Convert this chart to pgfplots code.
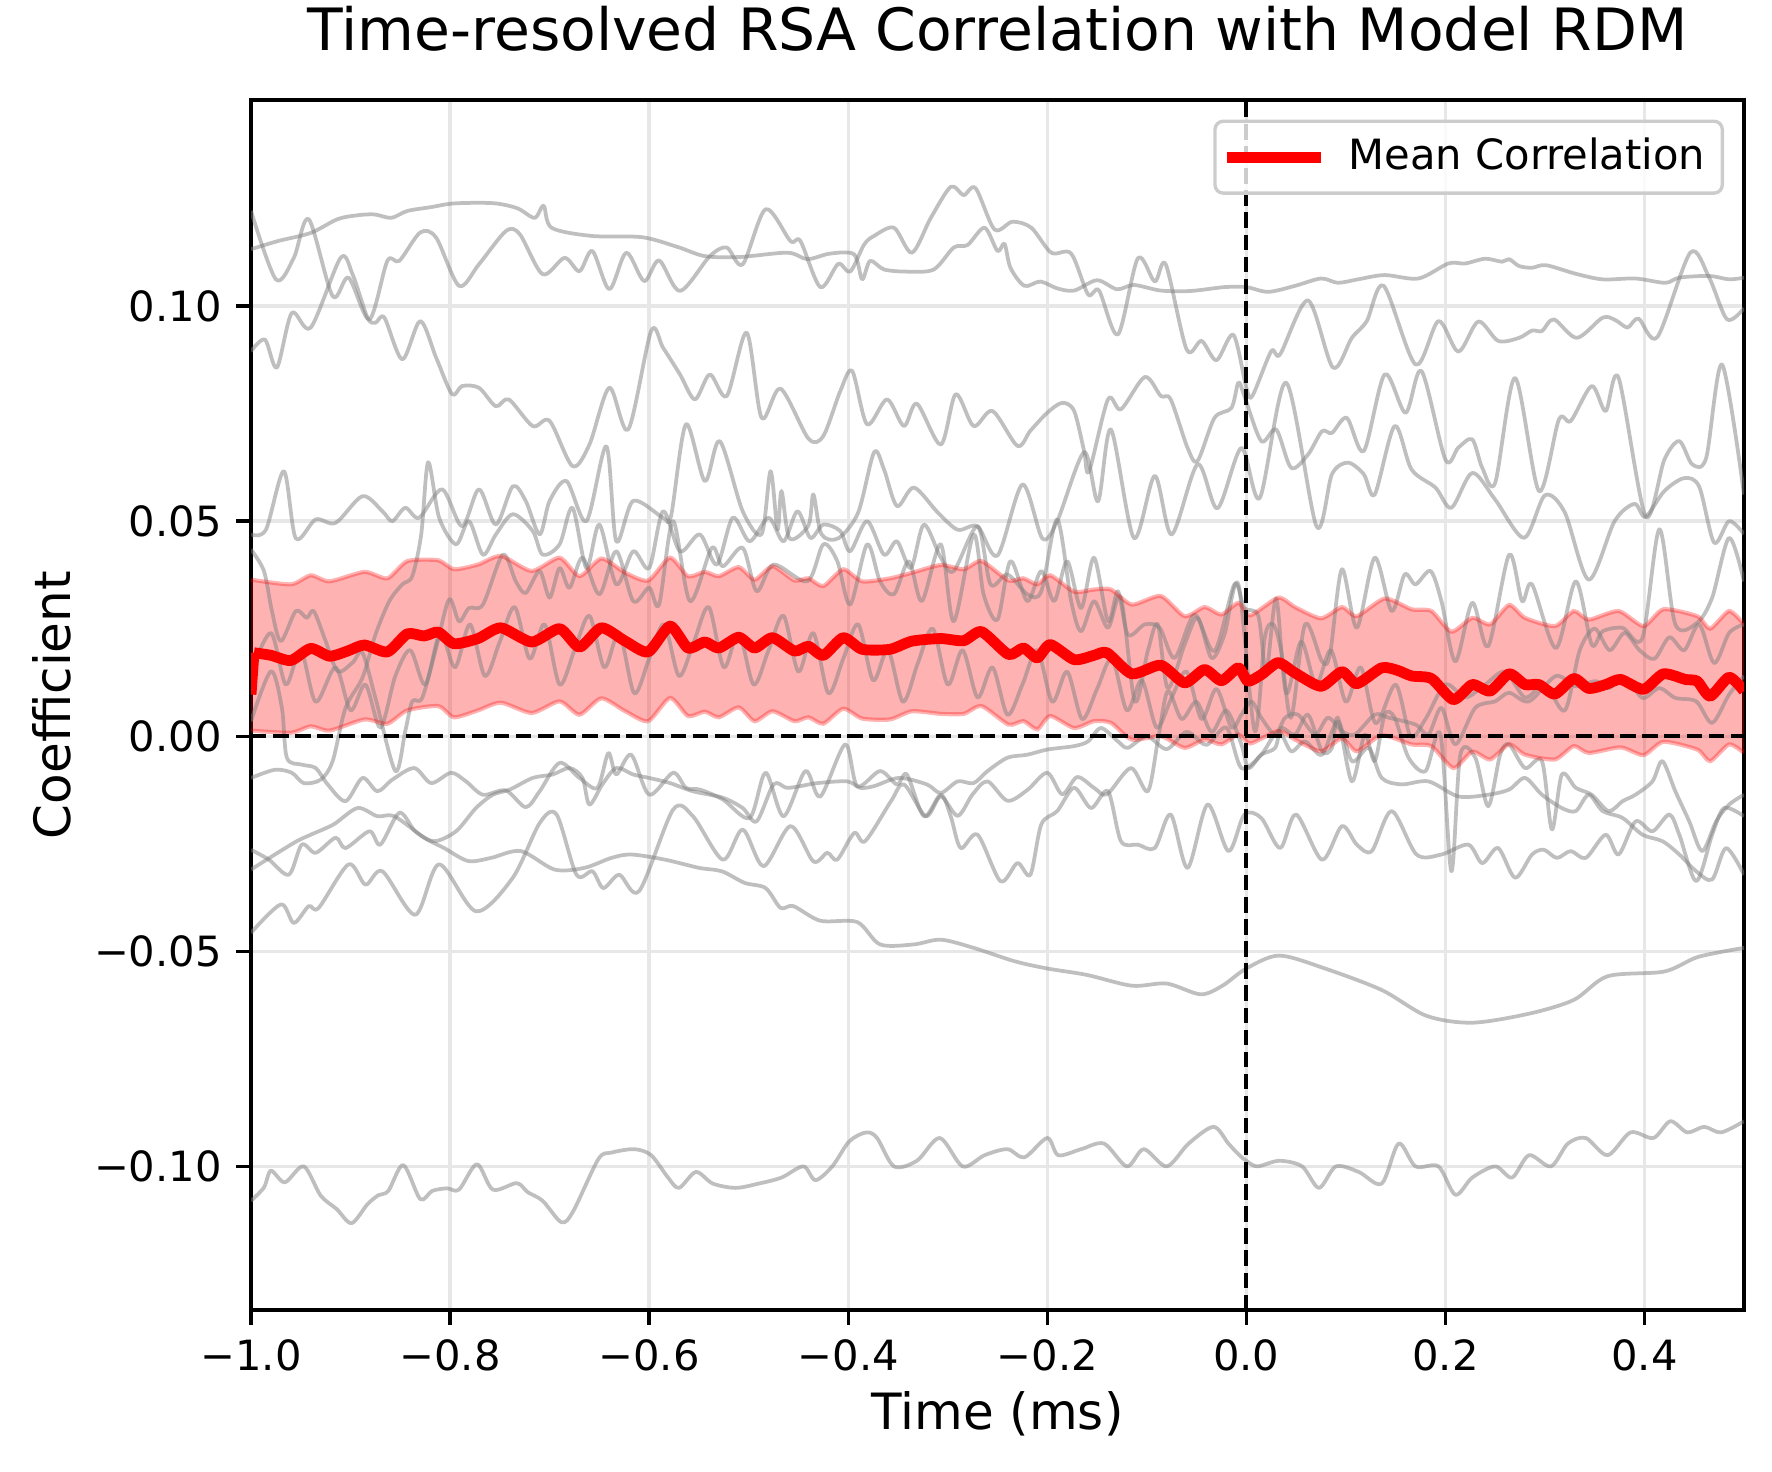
\documentclass[border=0pt]{standalone}
\usepackage{fontspec}
\setmainfont{DejaVu Sans}
\usepackage{pgfplots}
\pgfplotsset{compat=1.18}
\usepgfplotslibrary{fillbetween}
\definecolor{gridgray}{RGB}{231,231,231}
\definecolor{legendgray}{RGB}{204,204,204}
\pgfplotsset{gl/.style={color=gray, opacity=0.5, line width=0.9bp, smooth, tension=0.5, line join=round, forget plot}}
\begin{document}
\begin{tikzpicture}
\begin{axis}[
 name=ax,
 scale only axis, width=358.3bp, height=290.4bp,
 xmin=-1, xmax=0.5, ymin=-0.1334, ymax=0.1479,
 xtick={-1,-0.8,-0.6,-0.4,-0.2,0,0.2,0.4},
 xticklabels={−1.0,−0.8,−0.6,−0.4,−0.2,0.0,0.2,0.4},
 ytick={-0.1,-0.05,0,0.05,0.1},
 yticklabels={−0.10,−0.05,0.00,0.05,0.10},
 tick align=outside, major tick length=3.5bp,
 xtick pos=bottom, ytick pos=left,
 tick style={line width=0.8bp, black},
 axis line style={line width=0.8bp},
 grid=major, major grid style={line width=0.8bp, gridgray},
 tick label style={font=\fontsize{10bp}{12bp}\selectfont},
 title={Time-resolved RSA Correlation with Model RDM},
 title style={at={(0.5,1)}, anchor=base, yshift=6bp, font=\fontsize{14bp}{17bp}\selectfont},
 xlabel={Time (ms)}, ylabel={Coefficient},
 xlabel style={at={(axis description cs:0.5,-0.0983)}, anchor=base, font=\fontsize{12bp}{14bp}\selectfont},
 ylabel style={at={(axis description cs:-0.1212,0.5)}, anchor=base, font=\fontsize{12bp}{14bp}\selectfont},
 legend style={at={(1,1)}, anchor=north east, xshift=-4.8bp, yshift=-4.7bp, draw=legendgray, line width=0.8bp, rounded corners=2bp, fill=white, fill opacity=0.8, text opacity=1, draw opacity=1, font=\fontsize{10bp}{12bp}\selectfont, inner xsep=2.8bp, inner ysep=1.28bp, nodes={inner xsep=3.5bp, inner ysep=2.8bp}},
 legend image code/.code={\draw[#1, line width=2.6bp, line cap=rect] (0bp,0bp) -- (20bp,0bp);},
]
% S1
\addplot[gl] coordinates {(-1.0,0.1132) (-0.973,0.1151) (-0.94,0.117) (-0.913,0.1202) (-0.893,0.1211) (-0.876,0.1213) (-0.859,0.1205) (-0.843,0.1221) (-0.819,0.123) (-0.799,0.1238) (-0.772,0.124) (-0.752,0.1238) (-0.732,0.1227) (-0.715,0.1205) (-0.706,0.1233) (-0.698,0.1182) (-0.658,0.1163) (-0.607,0.116) (-0.571,0.1137) (-0.544,0.1116) (-0.509,0.1114) (-0.461,0.1124) (-0.441,0.1109) (-0.418,0.1122) (-0.394,0.112) (-0.386,0.1062) (-0.378,0.1105) (-0.364,0.1085) (-0.341,0.108) (-0.314,0.1085) (-0.294,0.1136) (-0.28,0.1142) (-0.263,0.1182) (-0.25,0.1128) (-0.243,0.1145) (-0.237,0.1089) (-0.223,0.1047) (-0.207,0.1057) (-0.19,0.1041) (-0.173,0.1036) (-0.15,0.106) (-0.13,0.1039) (-0.113,0.1049) (-0.086,0.1036) (-0.056,0.1035) (-0.022,0.1044) (0.0,0.1044) (0.022,0.1033) (0.049,0.1047) (0.075,0.1064) (0.092,0.1054) (0.112,0.1062) (0.139,0.1072) (0.173,0.1064) (0.203,0.1099) (0.22,0.1099) (0.24,0.111) (0.257,0.1103) (0.264,0.1109) (0.274,0.1093) (0.287,0.1089) (0.301,0.1095) (0.331,0.1075) (0.358,0.1062) (0.391,0.1064) (0.421,0.1054) (0.435,0.1066) (0.465,0.107) (0.485,0.1062) (0.5,0.1066)};
% A
\addplot[gl] coordinates {(-1.0,0.1221) (-0.975,0.1062) (-0.957,0.1112) (-0.942,0.1202) (-0.918,0.1023) (-0.902,0.1066) (-0.881,0.0969) (-0.863,0.1105) (-0.851,0.1105) (-0.83,0.1171) (-0.814,0.1159) (-0.791,0.1047) (-0.771,0.1097) (-0.744,0.1174) (-0.73,0.1167) (-0.707,0.1074) (-0.685,0.1112) (-0.67,0.1081) (-0.657,0.1128) (-0.64,0.1039) (-0.623,0.1124) (-0.605,0.1058) (-0.59,0.1106) (-0.569,0.1035) (-0.539,0.1116) (-0.522,0.1136) (-0.506,0.1097) (-0.483,0.1225) (-0.458,0.1151) (-0.448,0.1151) (-0.428,0.1044) (-0.41,0.1098) (-0.398,0.108) (-0.384,0.1143) (-0.374,0.1163) (-0.354,0.1182) (-0.336,0.1124) (-0.317,0.1205) (-0.297,0.1277) (-0.284,0.1258) (-0.272,0.1274) (-0.253,0.1178) (-0.235,0.1196) (-0.216,0.1182) (-0.196,0.1124) (-0.176,0.1122) (-0.159,0.1027) (-0.148,0.1036) (-0.129,0.0934) (-0.109,0.1111) (-0.092,0.1057) (-0.081,0.1097) (-0.06,0.0899) (-0.045,0.0919) (-0.03,0.0874) (-0.013,0.0933) (0.0,0.081) (0.006,0.0791) (0.025,0.0895) (0.034,0.0888) (0.062,0.1013) (0.087,0.0857) (0.106,0.0926) (0.121,0.0965) (0.138,0.1047) (0.17,0.0864) (0.193,0.0965) (0.213,0.0894) (0.233,0.0964) (0.253,0.0919) (0.274,0.0926) (0.287,0.0943) (0.297,0.0942) (0.309,0.0969) (0.332,0.0926) (0.358,0.0973) (0.371,0.0967) (0.383,0.095) (0.394,0.0971) (0.413,0.0928) (0.446,0.1124) (0.465,0.1066) (0.483,0.0969) (0.5,0.0995)};
% B
\addplot[gl] coordinates {(-1.0,0.0895) (-0.986,0.0922) (-0.974,0.0857) (-0.959,0.0984) (-0.94,0.095) (-0.91,0.1112) (-0.898,0.1074) (-0.883,0.0973) (-0.875,0.0961) (-0.866,0.0973) (-0.848,0.0876) (-0.83,0.0965) (-0.814,0.088) (-0.798,0.0795) (-0.788,0.0814) (-0.771,0.081) (-0.754,0.0767) (-0.741,0.0783) (-0.717,0.0721) (-0.7,0.0733) (-0.677,0.0628) (-0.66,0.0678) (-0.64,0.081) (-0.621,0.0713) (-0.598,0.0942) (-0.586,0.0903) (-0.569,0.0841) (-0.554,0.0783) (-0.539,0.0841) (-0.522,0.0791) (-0.502,0.0938) (-0.487,0.074) (-0.468,0.0808) (-0.44,0.0692) (-0.425,0.0698) (-0.408,0.0802) (-0.396,0.0849) (-0.381,0.0725) (-0.361,0.0783) (-0.344,0.0721) (-0.331,0.0773) (-0.307,0.0678) (-0.292,0.0795) (-0.274,0.0721) (-0.255,0.0756) (-0.23,0.0675) (-0.217,0.071) (-0.2,0.0752) (-0.185,0.0775) (-0.173,0.0756) (-0.163,0.0663) (-0.158,0.0616) (-0.139,0.0783) (-0.126,0.076) (-0.102,0.0835) (-0.086,0.0791) (-0.076,0.0783) (-0.059,0.067) (-0.049,0.064) (-0.032,0.074) (-0.015,0.0763) (-0.008,0.0822) (-0.002,0.0791) (0.015,0.0686) (0.03,0.0713) (0.045,0.0624) (0.062,0.0655) (0.076,0.0709) (0.086,0.0705) (0.101,0.074) (0.118,0.0663) (0.139,0.0841) (0.16,0.0752) (0.176,0.0849) (0.2,0.0643) (0.213,0.0671) (0.227,0.069) (0.237,0.0624) (0.25,0.0589) (0.27,0.0833) (0.294,0.057) (0.314,0.0736) (0.326,0.0733) (0.347,0.0814) (0.361,0.0756) (0.374,0.0833) (0.401,0.0512) (0.42,0.0643) (0.435,0.0686) (0.448,0.0632) (0.462,0.0647) (0.478,0.0864) (0.5,0.0562)};
% C1
\addplot[gl] coordinates {(-1.0,0.0469) (-0.985,0.048) (-0.967,0.0616) (-0.955,0.046) (-0.935,0.0504) (-0.915,0.0496) (-0.888,0.0558) (-0.868,0.0523) (-0.858,0.05) (-0.845,0.0531) (-0.831,0.0508) (-0.808,0.0574) (-0.788,0.0488) (-0.771,0.0574) (-0.754,0.0492) (-0.737,0.0581) (-0.724,0.0547) (-0.71,0.0469) (-0.7,0.0547) (-0.683,0.0593) (-0.663,0.05) (-0.643,0.0674) (-0.633,0.0453) (-0.616,0.0547) (-0.586,0.0508) (-0.578,0.0512) (-0.563,0.0725) (-0.544,0.0593) (-0.529,0.0686) (-0.506,0.0523) (-0.487,0.047) (-0.478,0.0616) (-0.471,0.048) (-0.467,0.057) (-0.459,0.046) (-0.44,0.049) (-0.435,0.0562) (-0.427,0.047) (-0.41,0.046) (-0.39,0.052) (-0.374,0.066) (-0.364,0.062) (-0.351,0.0535) (-0.334,0.0578) (-0.31,0.052) (-0.29,0.048) (-0.27,0.0488) (-0.25,0.042) (-0.225,0.0585) (-0.205,0.046) (-0.19,0.05) (-0.163,0.066) (-0.149,0.0546) (-0.136,0.0713) (-0.113,0.0461) (-0.092,0.0605) (-0.075,0.0469) (-0.049,0.0632) (-0.029,0.053) (-0.005,0.067) (0.0135,0.0554) (0.04,0.0822) (0.0705,0.0488) (0.086,0.0609) (0.102,0.0636) (0.118,0.0609) (0.129,0.0562) (0.149,0.0721) (0.166,0.062) (0.19,0.0578) (0.206,0.0531) (0.227,0.0612) (0.25,0.055) (0.279,0.0461) (0.3,0.056) (0.32,0.052) (0.344,0.0364) (0.37,0.05) (0.39,0.054) (0.401,0.051) (0.42,0.057) (0.44,0.06) (0.455,0.058) (0.47,0.045) (0.485,0.05) (0.5,0.047)};
% C2
\addplot[gl] coordinates {(-1.0,0.0434) (-0.987,0.0384) (-0.979,0.0291) (-0.97,0.0221) (-0.955,0.0291) (-0.944,0.0275) (-0.937,0.0291) (-0.925,0.0221) (-0.913,0.0151) (-0.898,0.0171) (-0.888,0.0194) (-0.875,0.0089) (-0.855,-0.0081) (-0.845,0.0012) (-0.838,0.0081) (-0.828,0.0089) (-0.814,0.0205) (-0.801,0.0318) (-0.791,0.0267) (-0.781,0.0298) (-0.767,0.0306) (-0.747,0.0422) (-0.734,0.036) (-0.724,0.0333) (-0.71,0.0384) (-0.7,0.0322) (-0.69,0.0391) (-0.68,0.0345) (-0.667,0.0415) (-0.65,0.033) (-0.633,0.043) (-0.616,0.0314) (-0.6,0.0345) (-0.59,0.0306) (-0.576,0.05) (-0.559,0.0314) (-0.537,0.0438) (-0.526,0.0395) (-0.506,0.0438) (-0.492,0.0337) (-0.475,0.0399) (-0.441,0.036) (-0.425,0.0446) (-0.411,0.0407) (-0.398,0.0306) (-0.381,0.0446) (-0.368,0.036) (-0.354,0.033) (-0.339,0.0407) (-0.326,0.0314) (-0.307,0.0446) (-0.294,0.0267) (-0.274,0.0469) (-0.264,0.033) (-0.25,0.0271) (-0.237,0.0407) (-0.22,0.0314) (-0.206,0.0384) (-0.193,0.0314) (-0.18,0.0407) (-0.166,0.0298) (-0.153,0.0415) (-0.139,0.0267) (-0.129,0.0337) (-0.119,0.0236) (-0.102,0.026) (-0.087,0.0252) (-0.072,0.0182) (-0.052,0.0283) (-0.032,0.0198) (-0.012,0.0353) (-0.002,0.0298) (0.012,0.028) (0.02,0.015) (0.03,0.032) (0.04,0.01) (0.055,0.022) (0.07,0.012) (0.085,0.02) (0.1,0.008) (0.115,0.016) (0.13,0.003) (0.15,0.012) (0.165,0.0) (0.18,0.004) (0.2,0.012) (0.22,0.009) (0.24,0.012) (0.26,0.015) (0.28,0.009) (0.3,0.012) (0.32,0.006) (0.335,0.02) (0.35,0.025) (0.365,0.02) (0.38,0.024) (0.395,0.02) (0.41,0.018) (0.425,0.023) (0.44,0.02) (0.455,0.026) (0.47,0.017) (0.485,0.024) (0.5,0.026)};
% La
\addplot[gl] coordinates {(-1.0,-0.0097) (-0.976,-0.0078) (-0.959,-0.0085) (-0.947,-0.0109) (-0.93,-0.0101) (-0.918,-0.0058) (-0.905,0.0066) (-0.888,0.0136) (-0.875,0.0236) (-0.861,0.0314) (-0.848,0.0353) (-0.838,0.0372) (-0.829,0.0469) (-0.822,0.0637) (-0.811,0.0508) (-0.794,0.0446) (-0.781,0.05) (-0.767,0.0422) (-0.754,0.0469) (-0.737,0.0516) (-0.717,0.0477) (-0.707,0.0422) (-0.69,0.0446) (-0.677,0.0531) (-0.663,0.0391) (-0.65,0.0492) (-0.633,0.0353) (-0.616,0.043) (-0.6,0.0391) (-0.586,0.0523) (-0.569,0.043) (-0.549,0.0469) (-0.532,0.0399) (-0.516,0.0508) (-0.499,0.0453) (-0.48,0.0508) (-0.465,0.0453) (-0.451,0.0523) (-0.438,0.0461) (-0.425,0.0492) (-0.408,0.0477) (-0.398,0.043) (-0.381,0.05) (-0.364,0.0422) (-0.351,0.0453) (-0.337,0.0391) (-0.324,0.0492) (-0.307,0.0415) (-0.294,0.0384) (-0.27,0.0488) (-0.257,0.0353) (-0.24,0.0376) (-0.22,0.033) (-0.206,0.0337) (-0.19,0.0504) (-0.176,0.0314) (-0.166,0.0244) (-0.153,0.0314) (-0.139,0.0252) (-0.126,0.0322) (-0.112,0.0081) (-0.099,0.0198) (-0.089,0.026) (-0.079,0.0112) (-0.062,0.0213) (-0.049,0.0275) (-0.035,0.0182) (-0.022,0.0236) (-0.008,0.0353) (0.0084,0.0012) (0.0185,0.0229) (0.027,0.026) (0.035,0.0198) (0.045,0.0043) (0.059,0.026) (0.076,0.0174) (0.084,0.019) (0.096,0.0388) (0.111,0.0252) (0.129,0.0415) (0.146,0.0291) (0.159,0.0376) (0.17,0.0353) (0.185,0.0384) (0.196,0.0314) (0.21,0.0174) (0.227,0.031) (0.243,0.0209) (0.264,0.0422) (0.277,0.0314) (0.287,0.0353) (0.311,0.0205) (0.331,0.036) (0.347,0.0213) (0.358,0.0244) (0.378,0.0252) (0.398,0.0229) (0.415,0.0481) (0.431,0.026) (0.453,0.0264) (0.468,0.0322) (0.485,0.0461) (0.5,0.036)};
% X
\addplot[gl] coordinates {(-1.0,0.015) (-0.98,0.024) (-0.965,0.012) (-0.95,0.02) (-0.935,0.008) (-0.915,0.016) (-0.9,0.006) (-0.885,0.012) (-0.87,0.002) (-0.855,0.014) (-0.84,0.02) (-0.825,0.012) (-0.81,0.024) (-0.795,0.016) (-0.78,0.026) (-0.765,0.014) (-0.75,0.022) (-0.735,0.03) (-0.72,0.018) (-0.705,0.026) (-0.69,0.012) (-0.675,0.02) (-0.66,0.028) (-0.645,0.016) (-0.63,0.024) (-0.615,0.01) (-0.6,0.018) (-0.585,0.026) (-0.57,0.014) (-0.555,0.022) (-0.54,0.03) (-0.525,0.016) (-0.51,0.024) (-0.495,0.012) (-0.48,0.02) (-0.465,0.028) (-0.45,0.015) (-0.435,0.024) (-0.42,0.01) (-0.405,0.018) (-0.39,0.026) (-0.375,0.013) (-0.36,0.02) (-0.345,0.008) (-0.33,0.017) (-0.315,0.025) (-0.3,0.012) (-0.285,0.02) (-0.27,0.009) (-0.255,0.016) (-0.24,0.005) (-0.225,0.012) (-0.21,0.02) (-0.195,0.008) (-0.18,0.015) (-0.165,0.004) (-0.15,0.011) (-0.135,0.018) (-0.12,0.006) (-0.105,0.013) (-0.09,0.002) (-0.075,0.009) (-0.06,0.015) (-0.045,0.004) (-0.03,0.011) (-0.015,0.002) (-0.005,0.005) (0.005,0.0081) (0.015,0.0043) (0.029,0.0004) (0.039,0.0043) (0.052,0.005) (0.069,0.0004) (0.082,0.0043) (0.096,0.0012) (0.109,0.0004) (0.129,0.005) (0.143,0.0043) (0.17,0.0027) (0.183,0.0004) (0.196,0.0066) (0.21,-0.0019) (0.23,0.0066) (0.25,0.0081) (0.264,0.0101) (0.284,0.0081) (0.311,0.014) (0.331,0.0116) (0.351,0.0128) (0.364,0.0112) (0.381,0.0136) (0.398,0.0089) (0.415,0.0112) (0.431,0.0089) (0.452,0.0081) (0.468,0.0031) (0.485,0.0097) (0.5,0.014)};
% Lb
\addplot[gl] coordinates {(-1.0,0.0035) (-0.98,0.0151) (-0.969,0.0066) (-0.964,-0.005) (-0.949,-0.0066) (-0.935,-0.0074) (-0.923,-0.0112) (-0.905,-0.0151) (-0.888,-0.0097) (-0.873,-0.0128) (-0.858,-0.0101) (-0.836,-0.0074) (-0.819,-0.0109) (-0.799,-0.0085) (-0.784,-0.0105) (-0.767,-0.0136) (-0.744,-0.0126) (-0.724,-0.0165) (-0.71,-0.0128) (-0.69,-0.0062) (-0.67,-0.0097) (-0.652,-0.012) (-0.641,-0.0039) (-0.633,-0.0089) (-0.618,-0.0043) (-0.6,-0.0136) (-0.576,-0.0085) (-0.563,-0.012) (-0.549,-0.0124) (-0.526,-0.0147) (-0.499,-0.019) (-0.483,-0.0085) (-0.465,-0.0186) (-0.443,-0.0081) (-0.428,-0.014) (-0.403,-0.0019) (-0.391,-0.0116) (-0.368,-0.0081) (-0.351,-0.0112) (-0.341,-0.0089) (-0.324,-0.0186) (-0.307,-0.0136) (-0.297,-0.0186) (-0.287,-0.026) (-0.27,-0.0229) (-0.247,-0.0337) (-0.23,-0.0295) (-0.217,-0.0322) (-0.206,-0.0205) (-0.19,-0.0174) (-0.173,-0.012) (-0.156,-0.0167) (-0.139,-0.0128) (-0.126,-0.0244) (-0.109,-0.0252) (-0.092,-0.026) (-0.076,-0.0182) (-0.059,-0.0306) (-0.039,-0.0159) (-0.018,-0.0267) (-0.002,-0.0182) (0.015,-0.019) (0.034,-0.026) (0.05,-0.0182) (0.076,-0.0287) (0.096,-0.0209) (0.111,-0.0252) (0.126,-0.0267) (0.146,-0.0174) (0.171,-0.0275) (0.196,-0.0275) (0.223,-0.0252) (0.237,-0.0295) (0.253,-0.026) (0.27,-0.0329) (0.287,-0.0275) (0.299,-0.0264) (0.312,-0.0283) (0.326,-0.0267) (0.341,-0.0283) (0.361,-0.0229) (0.374,-0.0275) (0.391,-0.0198) (0.408,-0.0221) (0.425,-0.0182) (0.435,-0.0229) (0.452,-0.0337) (0.468,-0.0229) (0.48,-0.0167) (0.5,-0.0186)};
% NE
\addplot[gl] coordinates {(-1.0,-0.0264) (-0.982,-0.0287) (-0.962,-0.0322) (-0.949,-0.0252) (-0.935,-0.0271) (-0.915,-0.0236) (-0.905,-0.026) (-0.881,-0.0221) (-0.87,-0.0252) (-0.851,-0.0178) (-0.835,-0.0221) (-0.816,-0.0244) (-0.794,-0.0221) (-0.774,-0.0167) (-0.757,-0.0136) (-0.74,-0.0124) (-0.717,-0.0097) (-0.697,-0.0089) (-0.68,-0.0074) (-0.667,-0.0097) (-0.66,-0.0159) (-0.647,-0.0112) (-0.633,-0.0074) (-0.616,-0.0089) (-0.6,-0.0097) (-0.579,-0.0109) (-0.556,-0.0128) (-0.526,-0.0143) (-0.506,-0.0167) (-0.492,-0.0198) (-0.475,-0.0112) (-0.462,-0.012) (-0.448,-0.0116) (-0.431,-0.0109) (-0.401,-0.0105) (-0.388,-0.012) (-0.374,-0.0116) (-0.349,-0.0097) (-0.321,-0.0112) (-0.307,-0.0132) (-0.29,-0.0105) (-0.274,-0.0109) (-0.26,-0.0081) (-0.24,-0.005) (-0.22,-0.0043) (-0.2,-0.0031) (-0.173,-0.0023) (-0.159,-0.0012) (-0.146,0.0019) (-0.129,-0.0012) (-0.119,-0.0027) (-0.1,0.0) (-0.08,-0.003) (-0.06,0.001) (-0.04,-0.002) (-0.02,0.002) (-0.005,-0.0074) (0.015,-0.0043) (0.032,0.0012) (0.045,-0.0035) (0.059,-0.0012) (0.076,-0.0043) (0.092,0.0035) (0.106,-0.0058) (0.123,-0.0027) (0.136,-0.0097) (0.156,-0.0112) (0.183,-0.0105) (0.213,-0.014) (0.243,-0.0136) (0.264,-0.0124) (0.28,-0.0097) (0.297,-0.0136) (0.317,-0.0167) (0.331,-0.0174) (0.344,-0.0136) (0.358,-0.0174) (0.378,-0.019) (0.398,-0.0229) (0.418,-0.0244) (0.435,-0.0275) (0.452,-0.0314) (0.468,-0.0333) (0.482,-0.026) (0.5,-0.0322)};
% M4
\addplot[gl] coordinates {(-1.0,-0.0457) (-0.97,-0.0391) (-0.957,-0.0434) (-0.942,-0.0395) (-0.932,-0.0399) (-0.902,-0.0298) (-0.885,-0.0345) (-0.868,-0.0314) (-0.835,-0.0415) (-0.811,-0.0298) (-0.774,-0.0407) (-0.737,-0.0329) (-0.71,-0.0202) (-0.693,-0.0182) (-0.673,-0.0322) (-0.657,-0.0314) (-0.646,-0.0353) (-0.63,-0.0322) (-0.61,-0.036) (-0.576,-0.0171) (-0.556,-0.0186) (-0.526,-0.0287) (-0.506,-0.0217) (-0.485,-0.0302) (-0.458,-0.0209) (-0.435,-0.0291) (-0.421,-0.0271) (-0.411,-0.0287) (-0.394,-0.0225) (-0.383,-0.0244) (-0.357,-0.0151) (-0.344,-0.0112) (-0.322,-0.0186) (-0.307,-0.014) (-0.29,-0.0185) (-0.275,-0.0135) (-0.26,-0.0105) (-0.24,-0.015) (-0.22,-0.0125) (-0.2,-0.0085) (-0.185,-0.0135) (-0.17,-0.0095) (-0.153,-0.012) (-0.14,-0.0135) (-0.116,-0.0074) (-0.099,-0.0128) (-0.089,-0.0012) (-0.079,0.0105) (-0.065,0.004) (-0.05,0.008) (-0.035,0.001) (-0.02,0.006) (-0.005,-0.0019) (0.002,-0.0074) (0.015,-0.0043) (0.029,-0.0027) (0.035,0.0019) (0.049,0.0004) (0.062,0.005) (0.076,-0.0035) (0.086,-0.0027) (0.092,0.0043) (0.106,-0.0105) (0.119,0.0004) (0.129,-0.0058) (0.139,0.005) (0.149,0.0043) (0.163,-0.005) (0.18,-0.0081) (0.195,0.0004) (0.206,-0.0314) (0.215,-0.0043) (0.23,-0.005) (0.243,-0.0163) (0.255,-0.0043) (0.264,-0.0019) (0.28,-0.0074) (0.297,-0.0058) (0.307,-0.0217) (0.317,-0.0089) (0.331,-0.012) (0.347,-0.0136) (0.364,-0.0174) (0.378,-0.0151) (0.391,-0.0136) (0.408,-0.0105) (0.418,-0.0058) (0.431,-0.0128) (0.445,-0.0198) (0.458,-0.0267) (0.472,-0.0198) (0.485,-0.0159) (0.5,-0.0136)};
% S2
\addplot[gl] coordinates {(-1.0,-0.031) (-0.957,-0.0248) (-0.94,-0.0229) (-0.917,-0.0205) (-0.893,-0.0167) (-0.873,-0.0186) (-0.856,-0.0186) (-0.826,-0.0236) (-0.806,-0.026) (-0.782,-0.029) (-0.759,-0.0283) (-0.729,-0.0267) (-0.695,-0.031) (-0.665,-0.0306) (-0.638,-0.0283) (-0.618,-0.0275) (-0.584,-0.0287) (-0.55,-0.0306) (-0.527,-0.0314) (-0.504,-0.0341) (-0.483,-0.0353) (-0.468,-0.0399) (-0.455,-0.0395) (-0.428,-0.0429) (-0.391,-0.0432) (-0.368,-0.0484) (-0.334,-0.0484) (-0.307,-0.0473) (-0.274,-0.0492) (-0.233,-0.0523) (-0.2,-0.054) (-0.16,-0.0555) (-0.115,-0.058) (-0.08,-0.0575) (-0.046,-0.06) (-0.024,-0.058) (0.0,-0.054) (0.033,-0.051) (0.079,-0.054) (0.136,-0.059) (0.181,-0.065) (0.227,-0.0666) (0.284,-0.0645) (0.329,-0.0613) (0.363,-0.0558) (0.42,-0.0547) (0.454,-0.0513) (0.5,-0.0492)};
% BOT
\addplot[gl] coordinates {(-1.0,-0.108) (-0.987,-0.1049) (-0.98,-0.101) (-0.966,-0.1037) (-0.947,-0.1) (-0.93,-0.1068) (-0.914,-0.1099) (-0.899,-0.1132) (-0.883,-0.1088) (-0.872,-0.1067) (-0.862,-0.1057) (-0.847,-0.0997) (-0.83,-0.1076) (-0.818,-0.1057) (-0.803,-0.1051) (-0.791,-0.1054) (-0.773,-0.0995) (-0.757,-0.1054) (-0.733,-0.1039) (-0.722,-0.106) (-0.707,-0.108) (-0.688,-0.113) (-0.676,-0.1103) (-0.651,-0.0983) (-0.638,-0.0968) (-0.615,-0.096) (-0.598,-0.0974) (-0.581,-0.1026) (-0.57,-0.105) (-0.553,-0.1013) (-0.536,-0.104) (-0.513,-0.105) (-0.49,-0.104) (-0.467,-0.1026) (-0.445,-0.1) (-0.433,-0.1032) (-0.416,-0.1) (-0.399,-0.0942) (-0.382,-0.0921) (-0.371,-0.0934) (-0.354,-0.1) (-0.331,-0.0987) (-0.308,-0.0934) (-0.285,-0.1) (-0.263,-0.0974) (-0.24,-0.096) (-0.223,-0.0979) (-0.2,-0.0934) (-0.189,-0.0974) (-0.166,-0.096) (-0.143,-0.0947) (-0.12,-0.1) (-0.103,-0.096) (-0.08,-0.1) (-0.058,-0.0947) (-0.033,-0.0908) (-0.018,-0.0947) (-0.007,-0.0974) (0.0,-0.0987) (0.011,-0.1) (0.033,-0.0987) (0.056,-0.1) (0.073,-0.105) (0.09,-0.1) (0.113,-0.1013) (0.136,-0.104) (0.153,-0.0947) (0.17,-0.1) (0.193,-0.1) (0.21,-0.1066) (0.227,-0.1026) (0.25,-0.1) (0.267,-0.1026) (0.284,-0.0974) (0.306,-0.1) (0.323,-0.0947) (0.341,-0.0934) (0.363,-0.0974) (0.386,-0.0921) (0.409,-0.0934) (0.426,-0.0895) (0.443,-0.0921) (0.46,-0.0908) (0.477,-0.0921) (0.5,-0.0895)};
% band
\addplot[name path=up, color=red, opacity=0.3, line width=1bp, smooth, tension=0.4, forget plot] coordinates {(-1.0,0.0364) (-0.96,0.0353) (-0.94,0.0374) (-0.921,0.036) (-0.886,0.0382) (-0.863,0.0367) (-0.843,0.0407) (-0.812,0.0409) (-0.796,0.0388) (-0.772,0.0399) (-0.749,0.0419) (-0.718,0.0384) (-0.69,0.0415) (-0.67,0.0372) (-0.648,0.0413) (-0.624,0.038) (-0.601,0.0362) (-0.579,0.0415) (-0.561,0.0372) (-0.544,0.0382) (-0.53,0.0372) (-0.51,0.0393) (-0.494,0.0364) (-0.476,0.0395) (-0.454,0.0362) (-0.44,0.0367) (-0.425,0.0349) (-0.405,0.0388) (-0.386,0.036) (-0.358,0.0367) (-0.336,0.038) (-0.307,0.0398) (-0.284,0.0388) (-0.266,0.0407) (-0.239,0.0362) (-0.224,0.0367) (-0.21,0.0353) (-0.197,0.0374) (-0.173,0.0336) (-0.153,0.0341) (-0.136,0.0341) (-0.115,0.0306) (-0.086,0.0326) (-0.062,0.0279) (-0.042,0.03) (-0.025,0.0283) (-0.008,0.031) (0.004,0.0281) (0.032,0.0322) (0.049,0.03) (0.075,0.0274) (0.096,0.03) (0.111,0.0279) (0.139,0.032) (0.166,0.0295) (0.186,0.0291) (0.206,0.0243) (0.227,0.0275) (0.245,0.026) (0.264,0.0305) (0.28,0.0275) (0.31,0.0256) (0.329,0.0291) (0.344,0.0271) (0.374,0.0291) (0.399,0.0256) (0.419,0.0295) (0.453,0.0279) (0.466,0.025) (0.485,0.0291) (0.5,0.026)};
\addplot[name path=lo, color=red, opacity=0.3, line width=1bp, smooth, tension=0.4, forget plot] coordinates {(-1.0,0.0013) (-0.96,0.0008) (-0.94,0.0023) (-0.921,0.0013) (-0.886,0.0039) (-0.863,0.0029) (-0.843,0.006) (-0.812,0.007) (-0.796,0.0044) (-0.772,0.006) (-0.749,0.0078) (-0.718,0.0054) (-0.69,0.0081) (-0.67,0.005) (-0.648,0.0088) (-0.624,0.0058) (-0.601,0.0035) (-0.579,0.0089) (-0.561,0.0047) (-0.544,0.0057) (-0.53,0.0044) (-0.51,0.0067) (-0.494,0.0035) (-0.476,0.0058) (-0.454,0.0035) (-0.44,0.0044) (-0.425,0.0029) (-0.405,0.0064) (-0.386,0.0041) (-0.358,0.0039) (-0.336,0.0058) (-0.307,0.0052) (-0.284,0.0052) (-0.266,0.007) (-0.239,0.0027) (-0.224,0.0035) (-0.21,0.0016) (-0.197,0.0047) (-0.173,0.0019) (-0.153,0.0035) (-0.136,0.0031) (-0.115,-0.0008) (-0.086,0.0) (-0.062,-0.0027) (-0.042,-0.0008) (-0.025,-0.0019) (-0.008,0.0004) (0.004,-0.0017) (0.032,0.0012) (0.049,-0.0008) (0.075,-0.0035) (0.096,-0.0005) (0.111,-0.0035) (0.136,0.0002) (0.166,-0.0019) (0.186,-0.0023) (0.208,-0.0074) (0.227,-0.0036) (0.245,-0.0054) (0.264,-0.0019) (0.28,-0.0043) (0.31,-0.0054) (0.329,-0.0023) (0.344,-0.0039) (0.376,-0.0026) (0.399,-0.0044) (0.419,-0.0013) (0.453,-0.0031) (0.466,-0.0058) (0.485,-0.0019) (0.5,-0.0039)};
\addplot[red, fill opacity=0.3, draw=none, forget plot] fill between[of=up and lo];
% zero lines
\addplot[black, line width=1bp, dash pattern=on 3.7bp off 1.6bp, forget plot] coordinates {(-1,0) (0.5,0)};
\addplot[black, line width=1bp, dash pattern=on 3.7bp off 1.6bp, forget plot] coordinates {(0,-0.1334) (0,0.1479)};
% mean
\addplot[red, line width=2.6bp, forget plot] coordinates {(-1.0,0.0097) (-0.997,0.0194)};
\addplot[red, line width=2.6bp, smooth, tension=0.4, line join=round] coordinates {(-0.997,0.0194) (-0.98,0.0188) (-0.96,0.0176) (-0.94,0.0204) (-0.921,0.0186) (-0.903,0.0198) (-0.886,0.0212) (-0.863,0.0196) (-0.843,0.0238) (-0.826,0.0233) (-0.812,0.0242) (-0.796,0.0215) (-0.772,0.0227) (-0.749,0.0252) (-0.718,0.0219) (-0.69,0.025) (-0.67,0.0207) (-0.648,0.0252) (-0.624,0.0221) (-0.601,0.0196) (-0.579,0.0256) (-0.561,0.0205) (-0.544,0.0219) (-0.53,0.0205) (-0.51,0.023) (-0.494,0.0205) (-0.476,0.0229) (-0.454,0.0198) (-0.44,0.0209) (-0.425,0.0188) (-0.405,0.0229) (-0.386,0.0202) (-0.358,0.0202) (-0.336,0.0221) (-0.307,0.0227) (-0.284,0.0222) (-0.266,0.0243) (-0.239,0.019) (-0.224,0.0205) (-0.21,0.0182) (-0.197,0.0213) (-0.173,0.0178) (-0.153,0.0188) (-0.14,0.0194) (-0.115,0.0145) (-0.086,0.0165) (-0.062,0.0124) (-0.042,0.0155) (-0.025,0.0129) (-0.008,0.0159) (0.0015,0.0128) (0.015,0.0143) (0.032,0.0171) (0.049,0.0147) (0.075,0.0116) (0.096,0.015) (0.111,0.0122) (0.136,0.0159) (0.152,0.0153) (0.166,0.014) (0.186,0.0134) (0.208,0.0085) (0.227,0.012) (0.245,0.0105) (0.264,0.0145) (0.28,0.012) (0.294,0.012) (0.31,0.0098) (0.329,0.0134) (0.344,0.0111) (0.361,0.012) (0.376,0.0132) (0.399,0.0109) (0.419,0.0145) (0.441,0.0132) (0.453,0.0128) (0.466,0.0093) (0.485,0.0137) (0.5,0.0105)};
\addlegendentry{\hspace{3.2bp}Mean Correlation\kern-2.2bp}
\end{axis}
\pgfresetboundingbox
\path ([shift={(-60.24bp,-38.64bp)}]ax.south west) rectangle ([shift={(6.72bp,24bp)}]ax.north east);
\end{tikzpicture}
\end{document}
